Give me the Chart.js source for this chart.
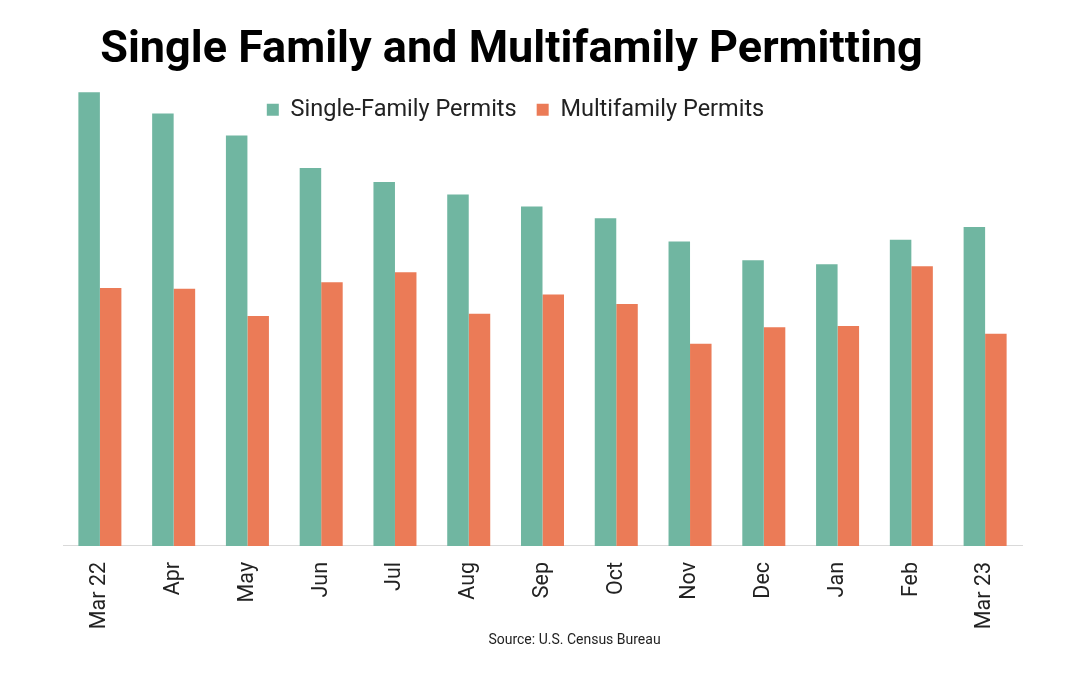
<!DOCTYPE html>
<html>
<head>
<meta charset="utf-8">
<script src="https://cdn.jsdelivr.net/npm/chart.js@4/dist/chart.umd.min.js"></script>
<style>
  html, body { margin: 0; padding: 0; background: #fff; }
  #wrap { width: 1078px; height: 685px; }
</style>
</head>
<body>
<div id="wrap"><canvas id="permits"></canvas></div>
<script>
const months = ['Mar 22', 'Apr', 'May', 'Jun', 'Jul', 'Aug', 'Sep', 'Oct', 'Nov', 'Dec', 'Jan', 'Feb', 'Mar 23'];
// permits, thousands (SAAR)
const singleFamily = [1131, 1078, 1023, 942, 907, 876, 846, 817, 759, 712, 702, 763, 795];
const multiFamily = [643, 641, 573, 657, 682, 579, 627, 603, 504, 545, 548, 697, 529];

// shift the centred title / legend / source a little, like the original
const nudge = {
  id: 'nudge',
  afterLayout(chart) {
    const shift = (box, dx, dy) => {
      if (!box) return;
      box.left += dx;
      box.right += dx;
      box.top += dy;
      box.bottom += dy;
    };
    shift(chart.titleBlock, -31, 0);
    shift(chart.legend, -27, 0);
    const sub = chart.boxes.find(b => b !== chart.titleBlock && b.options && b.options.text === 'Source: U.S. Census Bureau');
    shift(sub, 32, -5);
  }
};

new Chart(document.getElementById('permits'), {
  type: 'bar',
  data: {
    labels: months,
    datasets: [
      { label: 'Single-Family Permits', data: singleFamily, backgroundColor: '#70b6a1', clip: false },
      { label: 'Multifamily Permits', data: multiFamily, backgroundColor: '#eb7b57', clip: false }
    ]
  },
  options: {
    responsive: true,
    maintainAspectRatio: false,
    animation: false,
    layout: { padding: { top: 24, left: 63, right: 56, bottom: 31 } },
    datasets: {
      bar: { categoryPercentage: 0.583, barPercentage: 1.0, borderWidth: 0 }
    },
    scales: {
      x: {
        grid: { display: false },
        border: { display: true, color: '#d9d9d9', width: 1 },
        ticks: {
          minRotation: 90,
          maxRotation: 90,
          padding: 8,
          color: '#222',
          font: { family: 'Roboto', size: 21.5 }
        }
      },
      y: {
        display: false,
        min: 0,
        max: 1033
      }
    },
    plugins: {
      title: {
        display: true,
        text: 'Single Family and Multifamily Permitting',
        color: '#000',
        font: { family: 'Roboto', size: 45, weight: 'bold' },
        padding: { top: 0, bottom: 0 }
      },
      legend: {
        position: 'top',
        labels: {
          boxWidth: 12,
          boxHeight: 12,
          padding: 20,
          color: '#222',
          font: { family: 'Roboto', size: 23.5 }
        }
      },
      subtitle: {
        display: true,
        position: 'bottom',
        text: 'Source: U.S. Census Bureau',
        color: '#222',
        font: { family: 'Roboto', size: 14 },
        padding: { top: 0, bottom: 0 }
      },
      tooltip: { enabled: false }
    }
  },
  plugins: [nudge]
});
</script>
</body>
</html>
